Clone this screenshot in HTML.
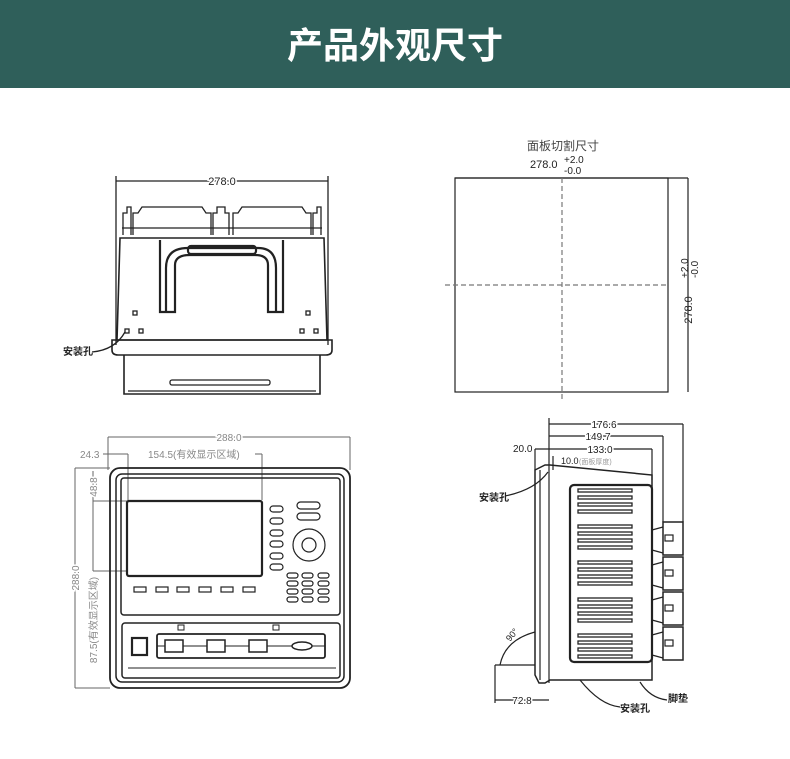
<!DOCTYPE html>
<html><head><meta charset="utf-8"><style>
html,body{margin:0;padding:0;background:#fff;}
svg{display:block;}
text{font-family:"Liberation Sans","Noto Sans CJK SC",sans-serif;}
</style></head><body>
<svg width="790" height="759" viewBox="0 0 790 759" xmlns="http://www.w3.org/2000/svg">
<rect x="0" y="0" width="790" height="88" fill="#2f5f5a"/>
<text x="395" y="58" font-size="36" font-weight="bold" fill="#fff" text-anchor="middle" font-family="'Noto Sans CJK SC',sans-serif">产品外观尺寸</text>

<!-- TOP LEFT -->
<g stroke="#222" fill="none" stroke-width="1.3">
<line x1="116" y1="181" x2="328" y2="181"/>
<line x1="116" y1="176" x2="116" y2="345"/>
<line x1="328" y1="176" x2="328" y2="345"/>
<path d="M123 235 V213 h4 v-6 h4 v28"/>
<path d="M133 235 V213 h5 l4 -6 h60 l4 6 h5 v22"/>
<path d="M213 235 V213 h4 v-6 h8 v6 h4 v22"/>
<path d="M233 235 V213 h5 l4 -6 h60 l4 6 h5 v22"/>
<path d="M313 235 V213 h4 v-6 h4 v28"/>
<line x1="122" y1="228" x2="322" y2="228"/>
<path d="M120 238 H324 L327 340 H117 Z" stroke-width="1.6"/>
<path d="M160 240 V312 H175 V265 Q175 255 190 255 H255 Q268 255 268 265 V312 H283 V240" stroke-width="2.2"/>
<path d="M166 312 V268 Q166 248 188 248 H258 Q276 248 276 268 V312" stroke-width="2.2"/>
<rect x="188" y="246" width="68" height="8" rx="3" stroke-width="2.2"/>
<rect x="133" y="311" width="4" height="4"/><rect x="125" y="329" width="4" height="4"/><rect x="139" y="329" width="4" height="4"/>
<rect x="306" y="311" width="4" height="4"/><rect x="300" y="329" width="4" height="4"/><rect x="314" y="329" width="4" height="4"/>
<path d="M112 340 H332 V350 Q332 355 326 355 H118 Q112 355 112 350 Z" stroke-width="1.6"/>
<path d="M124 355 V394 H320 V355" stroke-width="1.6"/>
<line x1="128" y1="391" x2="316" y2="391"/>
<rect x="170" y="380" width="100" height="5" rx="2"/>
<path d="M125 332 Q115 350 92 352"/>
</g>
<text x="222" y="185" font-size="11" fill="#222" text-anchor="middle" stroke="#fff" stroke-width="3" paint-order="stroke">278.0</text>
<text x="63" y="355" font-size="10" font-weight="bold" fill="#222">安装孔</text>

<!-- TOP RIGHT -->
<text x="563" y="150" font-size="12" fill="#444" text-anchor="middle" font-family="'Noto Serif CJK SC',serif">面板切割尺寸</text>
<text x="530" y="168" font-size="11" fill="#222">278.0</text>
<text x="564" y="163" font-size="10" fill="#222">+2.0</text>
<text x="564" y="174" font-size="10" fill="#222">-0.0</text>
<g stroke="#222" fill="none" stroke-width="1.2">
<line x1="455" y1="178" x2="688" y2="178"/>
<line x1="688" y1="178" x2="688" y2="392"/>
<rect x="455" y="178" width="213" height="214"/>
<line x1="562" y1="178" x2="562" y2="402" stroke-dasharray="5,3" stroke="#777"/>
<line x1="445" y1="285" x2="668" y2="285" stroke-dasharray="5,3" stroke="#777"/>
</g>
<g transform="translate(692,290) rotate(-90)">
<text x="-20" y="0" font-size="11" fill="#222" text-anchor="middle">278.0</text>
<text x="12" y="-4" font-size="10" fill="#222">+2.0</text>
<text x="12" y="6" font-size="10" fill="#222">-0.0</text>
</g>

<!-- BOTTOM LEFT -->
<g stroke="#666" fill="none" stroke-width="1">
<line x1="108" y1="437" x2="350" y2="437"/>
<line x1="108" y1="437" x2="108" y2="470"/><line x1="350" y1="437" x2="350" y2="470"/>
<line x1="103" y1="454" x2="128" y2="454"/>
<line x1="128" y1="454" x2="128" y2="500"/>
<line x1="255" y1="454" x2="262" y2="454"/><line x1="262" y1="454" x2="262" y2="500"/>
<line x1="75" y1="468" x2="110" y2="468"/><line x1="75" y1="688" x2="110" y2="688"/>
<line x1="75" y1="468" x2="75" y2="688"/>
<line x1="93" y1="501" x2="128" y2="501"/><line x1="93" y1="571" x2="128" y2="571"/>
<line x1="93" y1="471" x2="93" y2="571"/>
</g>
<g stroke="#222" fill="none" stroke-width="1.5">
<rect x="110" y="468" width="240" height="220" rx="10" stroke-width="1.8"/>
<rect x="116" y="474" width="228" height="208" rx="6"/>
<rect x="121" y="478" width="219" height="137" rx="3"/>
<rect x="127" y="501" width="135" height="75" rx="2" stroke-width="2.2"/>
<g stroke-width="1.2">
<rect x="270" y="506" width="13" height="6" rx="3"/><rect x="270" y="518" width="13" height="6" rx="3"/>
<rect x="270" y="530" width="13" height="6" rx="3"/><rect x="270" y="541" width="13" height="6" rx="3"/>
<rect x="270" y="553" width="13" height="6" rx="3"/><rect x="270" y="564" width="13" height="6" rx="3"/>
<rect x="297" y="502" width="23" height="7" rx="3.5"/><rect x="297" y="513" width="23" height="7" rx="3.5"/>
<circle cx="309" cy="545" r="16"/><circle cx="309" cy="545" r="7"/>
<rect x="287" y="573" width="11" height="5" rx="2.5"/><rect x="302" y="573" width="11" height="5" rx="2.5"/><rect x="318" y="573" width="11" height="5" rx="2.5"/>
<rect x="287" y="581" width="11" height="5" rx="2.5"/><rect x="302" y="581" width="11" height="5" rx="2.5"/><rect x="318" y="581" width="11" height="5" rx="2.5"/>
<rect x="287" y="589" width="11" height="5" rx="2.5"/><rect x="302" y="589" width="11" height="5" rx="2.5"/><rect x="318" y="589" width="11" height="5" rx="2.5"/>
<rect x="287" y="597" width="11" height="5" rx="2.5"/><rect x="302" y="597" width="11" height="5" rx="2.5"/><rect x="318" y="597" width="11" height="5" rx="2.5"/>
<rect x="134" y="587" width="12" height="5"/><rect x="156" y="587" width="12" height="5"/><rect x="177" y="587" width="12" height="5"/>
<rect x="199" y="587" width="12" height="5"/><rect x="221" y="587" width="12" height="5"/><rect x="243" y="587" width="12" height="5"/>
</g>
<rect x="122" y="623" width="218" height="55" rx="3"/>
<rect x="132" y="638" width="15" height="17" stroke-width="2.2"/>
<rect x="157" y="634" width="168" height="24" rx="2" stroke-width="1.8"/>
<line x1="157" y1="646" x2="325" y2="646" stroke-width="1"/>
<rect x="165" y="640" width="18" height="12" fill="#fff"/><rect x="207" y="640" width="18" height="12" fill="#fff"/><rect x="249" y="640" width="18" height="12" fill="#fff"/>
<ellipse cx="302" cy="646" rx="10" ry="4" fill="#fff"/>
<rect x="178" y="625" width="6" height="5" stroke-width="1"/><rect x="273" y="625" width="6" height="5" stroke-width="1"/>
<line x1="128" y1="668" x2="336" y2="668" stroke-width="1"/>
</g>
<g font-size="10" fill="#888">
<text x="80" y="458">24.3</text>
<text x="148" y="458">154.5(有效显示区域)</text>
<text x="229" y="441" text-anchor="middle" stroke="#fff" stroke-width="3" paint-order="stroke">288.0</text>
<text transform="translate(79,578) rotate(-90)" text-anchor="middle" stroke="#fff" stroke-width="3" paint-order="stroke">288.0</text>
<text transform="translate(97,620) rotate(-90)" text-anchor="middle">87.5(有效显示区域)</text>
<text transform="translate(97,487) rotate(-90)" text-anchor="middle" stroke="#fff" stroke-width="3" paint-order="stroke">48.8</text>
</g>

<!-- BOTTOM RIGHT -->
<g stroke="#222" fill="none" stroke-width="1.2">
<line x1="549" y1="424" x2="683" y2="424"/><line x1="683" y1="424" x2="683" y2="522"/>
<line x1="549" y1="436" x2="663" y2="436"/><line x1="663" y1="436" x2="663" y2="522"/>
<line x1="535" y1="449" x2="652" y2="449"/><line x1="652" y1="449" x2="652" y2="480"/>
<line x1="549" y1="418" x2="549" y2="683"/><line x1="535" y1="449" x2="535" y2="470"/>
<path d="M535 470 L545 465 H550 L652 475 V680 H550 L545 683 H539 L535 675 Z" stroke-width="1.5"/>
<line x1="540" y1="470" x2="540" y2="680"/>
<rect x="570" y="485" width="82" height="177" rx="4" stroke-width="2.2"/>
<g stroke-width="1.3">
<rect x="578" y="489" width="54" height="3"/><rect x="578" y="496" width="54" height="3"/><rect x="578" y="503" width="54" height="3"/><rect x="578" y="510" width="54" height="3"/>
<rect x="578" y="525" width="54" height="3"/><rect x="578" y="532" width="54" height="3"/><rect x="578" y="539" width="54" height="3"/><rect x="578" y="546" width="54" height="3"/>
<rect x="578" y="561" width="54" height="3"/><rect x="578" y="568" width="54" height="3"/><rect x="578" y="575" width="54" height="3"/><rect x="578" y="582" width="54" height="3"/>
<rect x="578" y="598" width="54" height="3"/><rect x="578" y="605" width="54" height="3"/><rect x="578" y="612" width="54" height="3"/><rect x="578" y="619" width="54" height="3"/>
<rect x="578" y="634" width="54" height="3"/><rect x="578" y="641" width="54" height="3"/><rect x="578" y="648" width="54" height="3"/><rect x="578" y="655" width="54" height="3"/>
</g>
<rect x="663" y="522" width="20" height="33" stroke-width="1.5"/><rect x="663" y="557" width="20" height="33" stroke-width="1.5"/>
<rect x="663" y="592" width="20" height="33" stroke-width="1.5"/><rect x="663" y="627" width="20" height="33" stroke-width="1.5"/>
<path d="M652 530 L663 527 M652 550 L663 553 M652 565 L663 562 M652 585 L663 588 M652 600 L663 597 M652 620 L663 623 M652 635 L663 632 M652 655 L663 658"/>
<rect x="665" y="535" width="8" height="6"/><rect x="665" y="570" width="8" height="6"/><rect x="665" y="605" width="8" height="6"/><rect x="665" y="640" width="8" height="6"/>
<line x1="495" y1="700" x2="549" y2="700"/><line x1="495" y1="665" x2="495" y2="703"/>
<line x1="495" y1="665" x2="535" y2="665"/>
<path d="M500 665 Q505 640 535 632"/>
<path d="M548 472 Q535 490 505 496"/>
<path d="M580 680 Q600 705 620 707"/>
<path d="M640 682 Q650 698 667 700"/>
<line x1="553" y1="456" x2="553" y2="470"/>
</g>
<g font-size="10" fill="#222">
<text x="604" y="428" text-anchor="middle" stroke="#fff" stroke-width="3" paint-order="stroke">176.6</text>
<text x="598" y="440" text-anchor="middle" stroke="#fff" stroke-width="3" paint-order="stroke">149.7</text>
<text x="600" y="453" text-anchor="middle" stroke="#fff" stroke-width="3" paint-order="stroke">133.0</text>
<text x="513" y="452">20.0</text>
<text x="561" y="464" font-size="9">10.0</text><text x="579" y="464" font-size="7" fill="#999">(面板厚度)</text>
<text x="479" y="501" font-weight="bold">安装孔</text>
<text x="620" y="712" font-weight="bold">安装孔</text>
<text x="668" y="702" font-weight="bold">脚垫</text>
<text x="522" y="704" text-anchor="middle" stroke="#fff" stroke-width="3" paint-order="stroke">72.8</text>
<text transform="translate(510,642) rotate(-50)" font-size="9">90°</text>
</g>
</svg>
</body></html>
